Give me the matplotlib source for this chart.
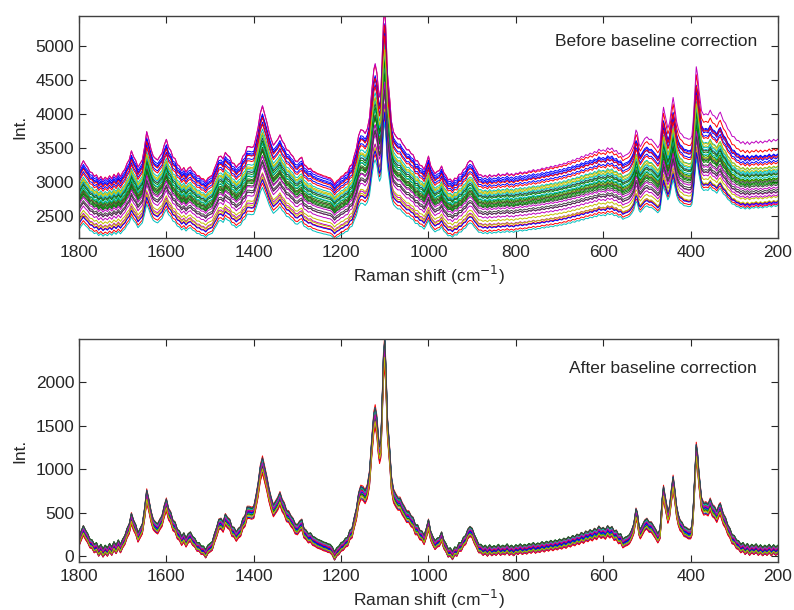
import numpy as np
import matplotlib
matplotlib.use("Agg")
import matplotlib.pyplot as plt

# wavenumber grid of the spectra (cm-1), finer around the sharp bands
wn = (list(range(1800, 1139, -5))
      + [1135, 1130, 1125, 1122, 1118, 1115, 1112, 1109, 1106, 1103, 1100,
         1097, 1094, 1091, 1088, 1085]
      + list(range(1080, 549, -5))
      + [545, 540, 535, 530, 525, 522, 518, 515, 510, 505, 500, 495, 490,
         485, 480, 475, 470, 465, 462, 459, 455, 452, 448, 444, 440, 436,
         432, 428, 424, 420, 415, 410, 405, 400, 397, 394, 390, 387, 384,
         381, 378, 375, 370, 365, 360, 355, 350, 345, 340, 335, 332, 328,
         325, 320, 315, 310, 305, 300, 295, 290]
      + list(range(285, 199, -5)))

# corrected (mean) spectrum
corrected = [
    # 1800 .. 1700
    170, 240, 300, 250, 210, 150, 140, 90, 110, 50, 90, 40, 80, 50, 100, 60,
    120, 80, 140, 90, 150,
    # 1695 .. 1600
    190, 270, 320, 440, 360, 310, 220, 270, 320, 490, 700, 590, 460, 370, 340,
    320, 370, 410, 520, 600,
    # 1595 .. 1500
    490, 450, 360, 340, 260, 240, 180, 220, 160, 210, 230, 180, 160, 110, 110,
    70, 70, 30, 80, 100,
    # 1495 .. 1400
    120, 210, 280, 370, 380, 340, 430, 390, 370, 290, 280, 230, 270, 290, 380,
    410, 510, 510, 500, 510,
    # 1395 .. 1300
    630, 770, 960, 1060, 950, 840, 710, 610, 530, 570, 610, 670, 590, 550, 470,
    460, 410, 380, 320, 310,
    # 1295 .. 1200
    350, 370, 270, 250, 210, 220, 180, 170, 150, 140, 130, 115, 110, 95, 90,
    60, 5, 50, 70, 110,
    # 1195 .. 1140
    120, 160, 170, 250, 270, 390, 490, 660, 740, 730, 690, 750,
    # 1135 .. 1085
    900, 1250, 1550, 1620, 1500, 1300, 1180, 1250, 1700, 2200, 2380, 2000,
    1500, 1300, 1100, 850,
    # 1080 .. 1000
    700, 650, 610, 610, 550, 510, 460, 460, 410, 390, 310, 310, 250, 240, 190,
    270, 370,
    # 995 .. 880
    240, 180, 130, 160, 170, 230, 140, 100, 40, 50, 10, 60, 50, 110, 110, 170,
    190, 260, 290, 270, 200, 150, 90, 90,
    # 875 .. 610
    60, 80, 50, 85, 55, 75, 60, 90, 60, 80, 65, 95, 60, 80, 55, 85, 70, 95,
    70, 90, 75, 100, 85, 110, 85, 105, 95, 120, 100, 125, 110, 135, 115, 140,
    125, 150, 135, 160, 145, 175, 160, 190, 175, 205, 190, 225, 205, 240, 225,
    255, 235, 270, 250, 295,
    # 605 .. 550
    265, 280, 255, 300, 270, 290, 240, 250, 200, 210, 150, 170,
    # 545 .. 290
    180, 200, 250, 320, 490, 450, 300, 260, 310, 360,
    380, 340, 340, 300, 260, 210, 260, 600, 740, 650,
    540, 450, 520, 700, 850, 700, 520, 420, 360, 340,
    290, 280, 260, 260, 300, 500, 900, 1210, 1100, 900,
    750, 610, 550, 560, 540, 600, 530, 510, 460, 530,
    550, 480, 430, 390, 310, 270, 200, 190, 140, 130,
    # 285 .. 200
    90, 110, 70, 100, 60, 90, 70, 95, 60, 85, 55, 80, 60, 90, 55, 85, 60, 80,
]
assert len(wn) == len(corrected)

# common baseline shape (0 at 1000 cm-1, 1 at 200 cm-1)
base_wn = [1800, 1500, 1200, 1000, 900, 800, 700, 600, 500, 400, 300, 200]
base_shape = [0.02, -0.02, -0.04, 0.0, 0.05, 0.12, 0.22, 0.34, 0.48, 0.66, 0.85, 1.0]

# per-spectrum values, raw (upper panel) and corrected (lower panel)
level = [2950, 2620, 2980, 2700, 2970, 2600, 2550,
         2900, 2580, 2200, 2780, 2450, 2350, 2480,
         2920, 2640, 2880, 2170, 2300, 2740, 2600,
         2850, 2560, 2260, 2650, 2400, 2290, 2700,
         2250, 2680, 2820, 2720, 2520, 2760, 2450]
rise = [380, 360, 420, 380, 570, 390, 350,
        380, 360, 420, 370, 340, 380, 350,
        400, 350, 420, 430, 330, 380, 360,
        390, 360, 400, 370, 350, 380, 360,
        400, 370, 390, 380, 340, 400, 350]
raw_scale = [1.00, 0.85, 1.08, 0.90, 1.10, 0.85, 0.80,
             1.00, 0.85, 0.75, 0.95, 0.80, 0.75, 0.80,
             1.00, 0.88, 1.02, 0.72, 0.78, 0.92, 0.85,
             0.98, 0.85, 0.75, 0.88, 0.80, 0.75, 0.90,
             0.75, 0.88, 0.98, 0.92, 0.82, 0.92, 0.80]
corr_scale = [1.02, 0.98, 1.05, 0.96, 1.00, 0.97, 1.03,
              0.95, 0.99, 1.04, 1.02, 1.01, 0.96, 1.04,
              1.03, 1.00, 0.94, 1.05, 0.98, 0.97, 1.02,
              1.01, 0.99, 0.96, 1.03, 1.00, 0.98, 1.04,
              1.00, 1.01, 1.02, 1.02, 0.99, 0.97, 1.03]
corr_offset = [15, -20, 40, -35, 5, -45, 25,
               -40, 30, -10, 45, -25, 10, -50,
               35, -5, -45, 5, 45, -15, 20,
               -15, 50, 20, -30, -40, 35, -5,
               0, -30, 10, 25, 20, -25, 40]

matlab_colors = ["#0000ff", "#008000", "#ff0000", "#00bfbf",
                 "#bf00bf", "#bfbf00", "#404040"]

plt.rcParams.update({
    "font.family": ["Liberation Sans", "DejaVu Sans"],
    "font.size": 12.5,
    "axes.linewidth": 1.0,
    "axes.edgecolor": "#404040",
    "xtick.direction": "in",
    "ytick.direction": "in",
    "xtick.top": True,
    "ytick.right": True,
    "xtick.major.size": 5,
    "ytick.major.size": 5,
    "xtick.major.pad": 5,
    "xtick.color": "#262626",
    "ytick.color": "#262626",
    "text.color": "#262626",
    "axes.labelcolor": "#262626",
})

x = np.array(wn, dtype=float)
prof = np.array(corrected, dtype=float)
shape = np.interp(x, base_wn[::-1], base_shape[::-1])

fig = plt.figure(figsize=(7.94, 6.10), dpi=100)
ax1 = fig.add_axes([0.0995, 0.6098, 0.8803, 0.3640])
ax2 = fig.add_axes([0.0995, 0.0787, 0.8803, 0.3656])

for i in range(len(level)):
    c = matlab_colors[i % len(matlab_colors)]
    raw = level[i] + rise[i] * shape + raw_scale[i] * prof
    ax1.plot(x, raw, color=c, lw=0.7)
    ax2.plot(x, corr_scale[i] * prof + corr_offset[i], color=c, lw=0.7)

for ax in (ax1, ax2):
    ax.set_xlim(1800, 200)
    ax.set_xticks(np.arange(1800, 199, -200))
    ax.set_ylabel("Int.", labelpad=6)
    ax.set_xlabel("Raman shift (cm$^{-1}$)", labelpad=3)

ax1.set_ylim(2177, 5436)
ax1.set_yticks(np.arange(2500, 5001, 500))
ax2.set_ylim(-65, 2495)
ax2.set_yticks(np.arange(0, 2001, 500))

ax1.text(0.97, 0.884, "Before baseline correction", transform=ax1.transAxes,
         ha="right", va="center")
ax2.text(0.97, 0.869, "After baseline correction", transform=ax2.transAxes,
         ha="right", va="center")

fig.savefig("out.png", dpi=100)
